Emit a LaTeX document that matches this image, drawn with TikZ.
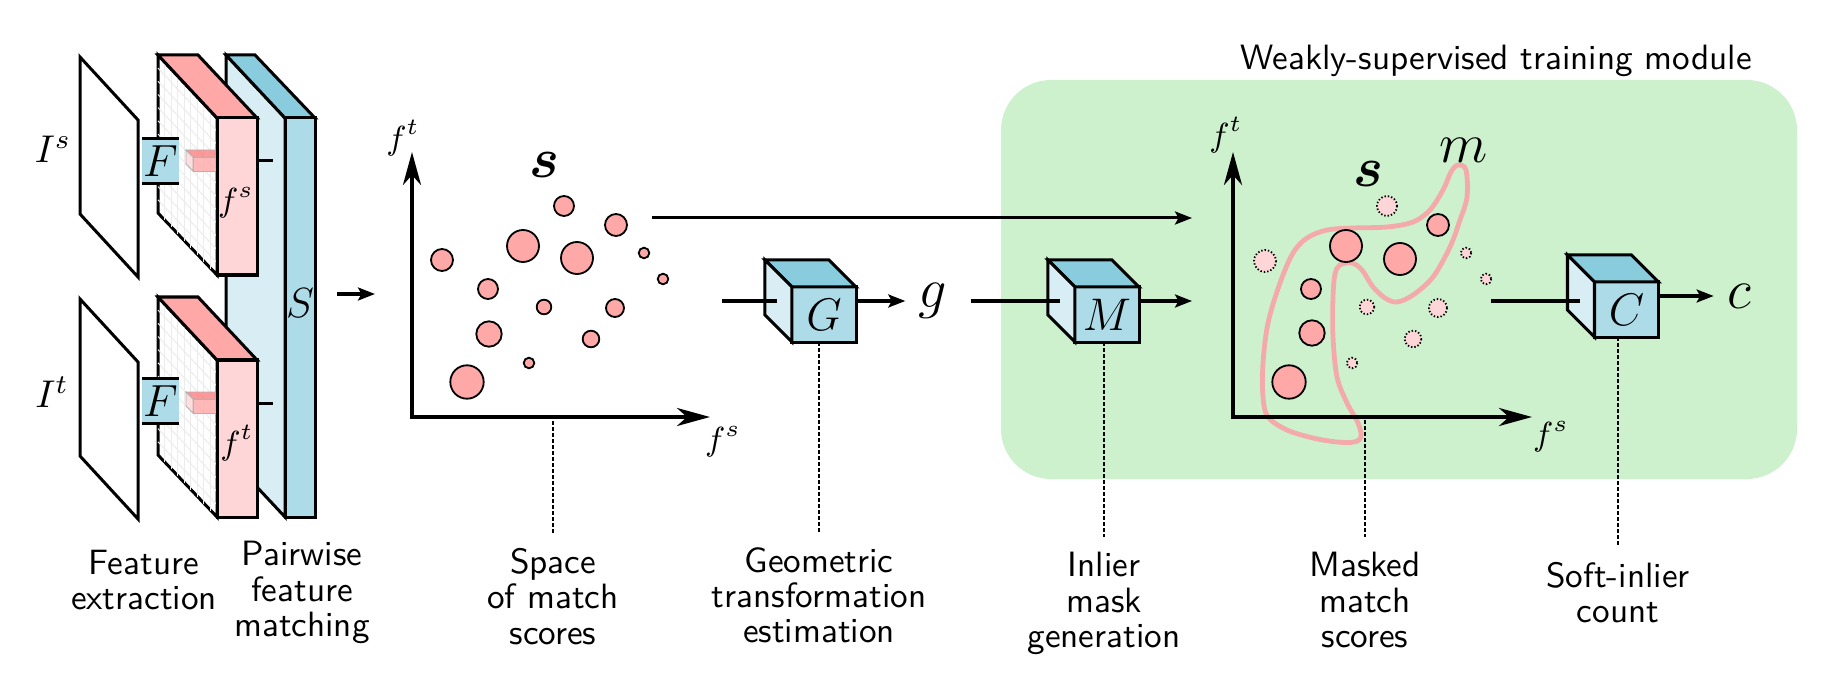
\RequirePackage{fix-cm}
\documentclass[tikz,border=0pt]{standalone}
\usepackage{amsmath}
\usetikzlibrary{arrows.meta,calc}

\definecolor{pinkdark}{RGB}{255,168,168}
\definecolor{pinklight}{RGB}{255,214,216}
\definecolor{pinkband}{RGB}{255,128,128}
\definecolor{bluedark}{RGB}{136,204,221}
\definecolor{bluemid}{RGB}{173,220,232}
\definecolor{bluelight}{RGB}{216,238,244}
\definecolor{trainbg}{RGB}{205,241,205}
\definecolor{maskline}{RGB}{244,170,170}

\tikzset{
  lbl/.style={font=\sffamily\fontsize{10}{10}\selectfont, align=center, anchor=north, inner sep=0.14cm},
  front/.style={draw, fill=bluemid, minimum width=0.64cm, minimum height=0.55cm, inner sep=0pt, outer sep=0pt, font=\fontsize{13}{13}\selectfont},
  cubetop/.style={draw, fill=bluedark},
  cubeside/.style={draw, fill=bluelight},
  fbox/.style={fill=bluemid, minimum width=0.37cm, minimum height=0.44cm, inner sep=0pt, outer sep=0pt, font=\fontsize{12.8}{12.8}\selectfont},
  arr/.style={-{Stealth[length=0.17cm, width=0.13cm, inset=0.035cm]}},
  axis/.style={line width=0.038cm, {Stealth[length=0.33cm, width=0.18cm, inset=0.1cm]}-{Stealth[length=0.33cm, width=0.18cm, inset=0.1cm]}},
  score/.style={draw, line width=0.018cm, fill=pinkdark},
  outlier/.style={draw, line width=0.018cm, dash pattern=on 0.014cm off 0.02cm, fill=pinklight},
  guide/.style={line width=0.02cm, dash pattern=on 0.035cm off 0.025cm},
  gridline/.style={line width=0.01cm, gray!15},
  bigmath/.style={font=\fontsize{16}{16}\selectfont, inner sep=0.12cm},
  axlbl/.style={font=\fontsize{9.5}{9.5}\selectfont},
}

\begin{document}
\begin{tikzpicture}[x=0.01cm, y=-0.01cm, line width=0.03cm]
\useasboundingbox (0,0) rectangle (1839,676);

% training module
\fill[trainbg, rounded corners=0.5cm] (1001,80) rectangle (1797,479);
\node[font=\sffamily\fontsize{10}{10}\selectfont, anchor=base] (title) at (1496,70) {Weakly-supervised training module};

% matching volume S
\draw[fill=bluelight] (226,55) -- (285,118) -- (285,517) -- (226,454) -- cycle;
\draw[fill=bluedark] (226,55) -- (255,55) -- (315,118) -- (285,118) -- cycle;
\draw[fill=bluemid] (285,118) rectangle (315,517);
\node[font=\fontsize{12}{12}\selectfont] (S) at (300,303) {$S$};
\draw (257,161) -- (273,161);
\draw (257,403) -- (273,403);

% feature maps
\draw[fill=white] (158,55) -- (217,118) -- (217,275) -- (158,213) -- cycle;
\draw[fill=white] (158,297) -- (217,360) -- (217,517) -- (158,455) -- cycle;
\foreach \dy in {0,242} {
  \foreach \i in {1,...,8} \draw[gridline] (158+\i*59/9, 55+\dy+\i*63/9) -- ++(0,158);
  \foreach \j in {1,...,11} \draw[gridline] (158, 55+\dy+\j*158/12) -- ++(59,63);
  \draw[gray!60, line width=0.008cm, fill=pinkband, fill opacity=0.8] (186,150+\dy) -- (217,150+\dy) -- (217,157+\dy) -- (193,157+\dy) -- cycle;
  \draw[gray!60, line width=0.008cm, fill=pinkdark, fill opacity=0.8] (193,157+\dy) rectangle (217,171+\dy);
  \draw[gray!60, line width=0.008cm, fill=pinklight, fill opacity=0.8] (186,150+\dy) -- (193,157+\dy) -- (193,171+\dy) -- (186,164+\dy) -- cycle;
}
\draw[fill=pinkdark] (158,55) -- (198,55) -- (257,118) -- (217,118) -- cycle;
\draw[fill=pinklight] (217,118) rectangle (257,275);
\draw[fill=pinkdark] (158,297) -- (198,297) -- (257,360) -- (217,360) -- cycle;
\draw[fill=pinklight] (217,360) rectangle (257,517);
\node[axlbl] (fsmap) at (236,203) {$f^s$};
\node[axlbl] (ftmap) at (237,443) {$f^t$};

% images
\draw[fill=white] (80,57) -- (138,120) -- (138,277) -- (80,214) -- cycle;
\draw[fill=white] (80,299) -- (138,362) -- (138,519) -- (80,456) -- cycle;
\node[font=\fontsize{11}{11}\selectfont] (Is) at (53,149) {$I^s$};
\node[font=\fontsize{11}{11}\selectfont] (It) at (52,392) {$I^t$};

% extractors
\node[fbox] (Fs) at (160.5,161) {$F$};
\draw (Fs.north west) -- (Fs.north east) (Fs.south west) -- (Fs.south east);
\node[fbox] (Ft) at (160.5,401) {$F$};
\draw (Ft.north west) -- (Ft.north east) (Ft.south west) -- (Ft.south east);

\coordinate (sout) at (337,294);
\coordinate (sin) at (375,294);
\draw[arr] (sout) -- (sin);

% space of match scores
\coordinate (o1) at (412,417);
\coordinate (x1) at (710,417);
\coordinate (y1) at (412,152);
\draw[axis] (y1) -- (o1) -- (x1);
\node[axlbl] (ft1) at (403,138) {$f^t$};
\node[axlbl] (fs1) at (723,442) {$f^s$};
\node[bigmath] (s1) at (544,165) {$\boldsymbol{s}$};
\draw[score] (564,206) circle[radius=10] (616,225) circle[radius=11] (523,246) circle[radius=16]
  (577,258) circle[radius=16] (442,260) circle[radius=11] (644,253) circle[radius=5.3]
  (663,279) circle[radius=5.3] (488,289) circle[radius=10] (544,307) circle[radius=7.3]
  (615,308) circle[radius=9] (489,334) circle[radius=12.7] (591,339) circle[radius=8.3]
  (529,363) circle[radius=5.3] (467,382) circle[radius=16.7];

\coordinate (s1out) at (652,218);
\coordinate (s2in) at (1192,218);
\draw[arr] (s1out) -- (s2in);

% geometric transformation G
\coordinate (g1in) at (722,301);
\node[front] (G) at (824,314.5) {$G$};
\draw[cubetop] (G.north west) -- (G.north east) -- ([shift={(-27,-27)}]G.north east) -- ([shift={(-27,-27)}]G.north west) -- cycle;
\draw[cubeside] (G.north west) -- (G.south west) -- ([shift={(-27,-27)}]G.south west) -- ([shift={(-27,-27)}]G.north west) -- cycle;
\draw (g1in) -- ([shift={(-15,-13.5)}]G.west);
\node[bigmath] (g) at (933,301) {$g$};
\draw[arr] ([shift={(0,-13.5)}]G.east) -- (g);

% inlier mask M
\node[front] (M) at (1107,314.5) {$M$};
\draw[cubetop] (M.north west) -- (M.north east) -- ([shift={(-27,-27)}]M.north east) -- ([shift={(-27,-27)}]M.north west) -- cycle;
\draw[cubeside] (M.north west) -- (M.south west) -- ([shift={(-27,-27)}]M.south west) -- ([shift={(-27,-27)}]M.north west) -- cycle;
\draw[shorten <=0.1cm] (g) -- ([shift={(-15,-13.5)}]M.west);
\coordinate (mout) at (1192,301);
\draw[arr] ([shift={(0,-13.5)}]M.east) -- (mout);

% masked match scores
\draw[maskline, line width=0.048cm] plot[smooth cycle, tension=0.55] coordinates {
  (1458,165) (1466,170) (1467,197) (1460,220) (1450,247) (1433,277) (1413,295) (1397,302)
  (1385,298) (1373,287) (1362,270) (1352,263) (1340,265) (1335,274) (1333,297) (1333,337)
  (1337,377) (1347,403) (1358,423) (1361,437) (1354,442) (1337,442) (1313,438) (1287,430)
  (1268,417) (1263,397) (1263,363) (1268,323) (1280,283) (1293,253) (1307,238) (1327,230)
  (1353,228) (1387,227) (1413,222) (1430,210) (1443,190) (1451,172)};
\coordinate (o2) at (1233,417);
\coordinate (x2) at (1532,417);
\coordinate (y2) at (1233,152);
\draw[axis] (y2) -- (o2) -- (x2);
\node[axlbl] (ft2) at (1226,135) {$f^t$};
\node[axlbl] (fs2) at (1551,437) {$f^s$};
\node[bigmath] (s2) at (1368,174) {$\boldsymbol{s}$};
\node[bigmath] (m) at (1464,150) {$m$};
\draw[outlier] (1387,206) circle[radius=10] (1265,261) circle[radius=11] (1466,253) circle[radius=5.3]
  (1486,279) circle[radius=5.3] (1367,307) circle[radius=7.3] (1438,308) circle[radius=9]
  (1413,339) circle[radius=8.3] (1352,363) circle[radius=5.3];
\draw[score] (1438,225) circle[radius=11] (1346,246) circle[radius=16] (1400,259) circle[radius=16]
  (1311,289) circle[radius=10] (1312,333) circle[radius=12.7] (1289,382) circle[radius=16.7];

% soft-inlier count C
\coordinate (cin) at (1491,301);
\node[front] (C) at (1626.5,309.5) {$C$};
\draw[cubetop] (C.north west) -- (C.north east) -- ([shift={(-27,-27)}]C.north east) -- ([shift={(-27,-27)}]C.north west) -- cycle;
\draw[cubeside] (C.north west) -- (C.south west) -- ([shift={(-27,-27)}]C.south west) -- ([shift={(-27,-27)}]C.north west) -- cycle;
\draw (cin) -- ([shift={(-15,-8.5)}]C.west);
\node[font=\fontsize{16}{16}\selectfont, inner sep=0.12cm] (c) at (1739,296) {$c$};
\draw[arr] ([shift={(0,-13.5)}]C.east) -- (c);

% captions
\node[lbl] (featlbl) at (144,535) {Feature\\extraction};
\node[lbl] (pairlbl) at (302,526) {Pairwise\\feature\\matching};
\coordinate (sp1) at (553,421);
\node[lbl] (sp1lbl) at (553,533) {Space\\of match\\scores};
\draw[guide] (sp1) -- (sp1lbl);
\node[lbl] (Glbl) at (819,532) {Geometric\\transformation\\estimation};
\draw[guide] (G.south -| Glbl.north) -- (Glbl.north);
\node[lbl] (Mlbl) at (1104,537) {Inlier\\mask\\generation};
\draw[guide] (M.south -| Mlbl.north) -- (Mlbl.north);
\coordinate (sp2) at (1365,420);
\node[lbl] (sp2lbl) at (1365,537) {Masked\\match\\scores};
\draw[guide] (sp2) -- (sp2lbl);
\node[lbl] (Clbl) at (1618,547) {Soft-inlier\\count};
\draw[guide] (C.south -| Clbl.north) -- (Clbl.north);
\end{tikzpicture}
\end{document}
